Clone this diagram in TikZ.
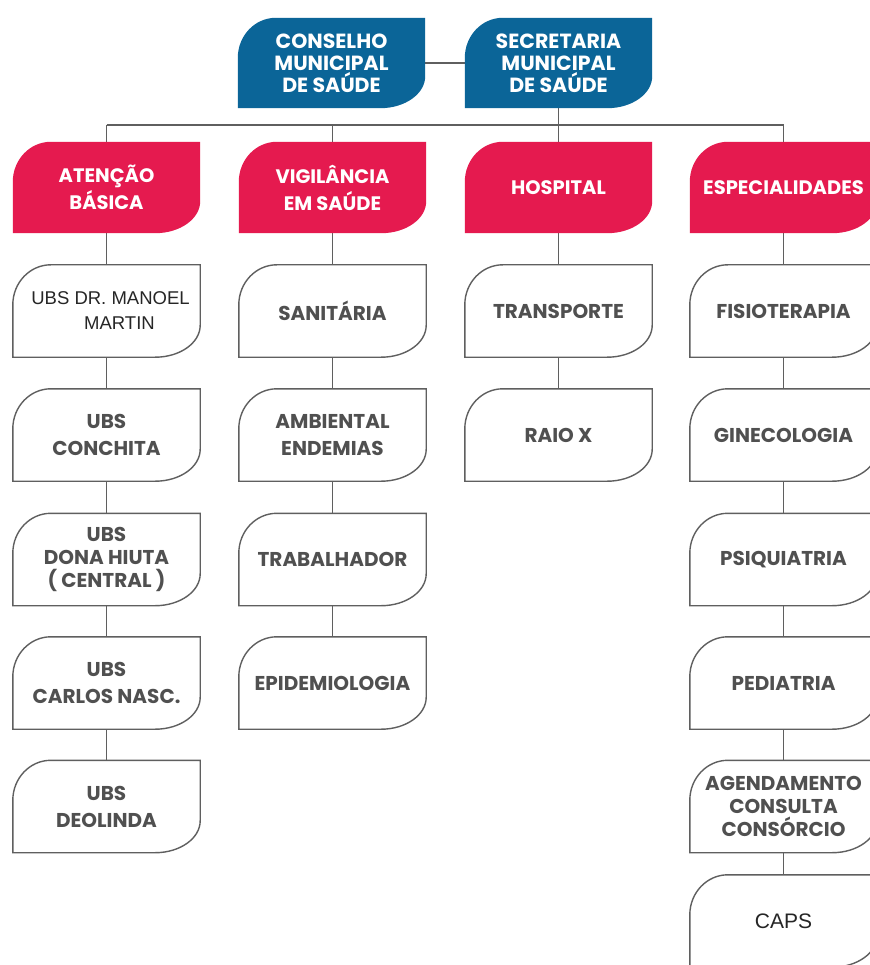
\documentclass[tikz,border=0pt]{standalone}
\usepackage{fontspec}
\setmainfont{Poppins}
\newfontfamily\arialf{Liberation Sans}
\usetikzlibrary{calc}
\definecolor{topblue}{HTML}{0B6598}
\definecolor{hdrpink}{HTML}{E51A4F}
\definecolor{txtgray}{HTML}{505050}
\definecolor{linegray}{HTML}{5F5F5F}
\pgfdeclarelayer{background}
\pgfsetlayers{background,main}
\begin{document}
\begin{tikzpicture}[x=1pt,y=-1pt,
  topbox/.style={minimum width=187pt,minimum height=90pt,inner sep=0pt,align=center,text=white,font=\bfseries\fontsize{20.5}{22}\selectfont},
  hdr/.style={minimum width=187pt,minimum height=91pt,inner sep=0pt,align=center,text=white,font=\bfseries\fontsize{19.5}{27}\selectfont},
  leaf/.style={minimum width=187pt,minimum height=92pt,inner sep=0pt,align=center,text=txtgray,font=\bfseries\fontsize{20}{27}\selectfont},
  leaf3/.style={leaf,font=\bfseries\fontsize{20}{23}\selectfont},
  shp/.style={insert path={(#1.north east) -- ([yshift=32pt]#1.south east) arc[start angle=0,end angle=-90,x radius=45pt,y radius=32pt] -- (#1.south west) -- ([yshift=-40pt]#1.north west) arc[start angle=180,end angle=90,x radius=38pt,y radius=40pt] -- cycle}},
  wire/.style={draw=linegray,line width=1.6pt},
  leafline/.style={draw=linegray,line width=1.4pt,fill=white},
]
\useasboundingbox (0,0) rectangle (869,965);

% top row
\node[topbox] (cms) at (331.5,63) {CONSELHO\\MUNICIPAL\\DE SAÚDE};
\node[topbox] (sms) at (558.5,63) {SECRETARIA\\MUNICIPAL\\DE SAÚDE};

% headers
\node[hdr] (h1) at (106.5,187.5) {ATENÇÃO\\BÁSICA};
\node[hdr] (h2) at (332.5,187.5) {VIGILÂNCIA\\EM SAÚDE};
\node[hdr] (h3) at (558.5,187.5) {HOSPITAL};
\node[hdr] (h4) at (783.5,187.5) {ESPECIALIDADES};

% column 1
\node[leaf,font=\arialf\fontsize{18.5}{25}\selectfont,text=black!85] (a1) at (106.5,311) {\hspace*{8pt}UBS DR. MANOEL\\\hspace*{26pt}MARTIN};
\node[leaf] (a2) at (106.5,435) {UBS\\CONCHITA};
\node[leaf3] (a3) at (106.5,559.5) {UBS\\DONA HIUTA\\( CENTRAL )};
\node[leaf] (a4) at (106.5,683) {UBS\\CARLOS NASC.};
\node[leaf] (a5) at (106.5,806.5) {UBS\\DEOLINDA};

% column 2
\node[leaf] (b1) at (332.5,311) {SANITÁRIA};
\node[leaf] (b2) at (332.5,435) {AMBIENTAL\\ENDEMIAS};
\node[leaf] (b3) at (332.5,559.5) {TRABALHADOR};
\node[leaf] (b4) at (332.5,683) {EPIDEMIOLOGIA};

% column 3
\node[leaf] (c1) at (558.5,311) {TRANSPORTE};
\node[leaf] (c2) at (558.5,435) {RAIO X};

% column 4
\node[leaf] (d1) at (783.5,311) {FISIOTERAPIA};
\node[leaf] (d2) at (783.5,435) {GINECOLOGIA};
\node[leaf] (d3) at (783.5,559.5) {PSIQUIATRIA};
\node[leaf] (d4) at (783.5,683) {PEDIATRIA};
\node[leaf3] (d5) at (783.5,806.5) {AGENDAMENTO\\CONSULTA\\CONSÓRCIO};
\node[leaf,font=\arialf\fontsize{21}{25}\selectfont,text=black!85] (d6) at (783.5,921) {CAPS};

\coordinate (bus) at (0,125);

\begin{pgfonlayer}{background}
  \fill[white] (0,0) rectangle (869,965);
  % connectors
  \draw[wire] (cms.east) -- (sms.west);
  \draw[wire] (sms.south) -- (sms.south |- bus);
  \draw[wire] (h1.north |- bus) -- (h4.north |- bus);
  \foreach \h in {h1,h2,h3,h4} {\draw[wire] (\h.north |- bus) -- (\h.north);}
  \draw[wire] (h1.south) -- (a1.north);
  \draw[wire] (a1.south) -- (a2.north);
  \draw[wire] (a2.south) -- (a3.north);
  \draw[wire] (a3.south) -- (a4.north);
  \draw[wire] (a4.south) -- (a5.north);
  \draw[wire] (h2.south) -- (b1.north);
  \draw[wire] (b1.south) -- (b2.north);
  \draw[wire] (b2.south) -- (b3.north);
  \draw[wire] (b3.south) -- (b4.north);
  \draw[wire] (h3.south) -- (c1.north);
  \draw[wire] (c1.south) -- (c2.north);
  \draw[wire] (h4.south) -- (d1.north);
  \draw[wire] (d1.south) -- (d2.north);
  \draw[wire] (d2.south) -- (d3.north);
  \draw[wire] (d3.south) -- (d4.north);
  \draw[wire] (d4.south) -- (d5.north);
  \draw[wire] (d5.south) -- (d6.north);
  % shapes
  \foreach \n in {cms,sms} {\fill[topblue,shp=\n];}
  \foreach \n in {h1,h2,h3,h4} {\fill[hdrpink,shp=\n];}
  \foreach \n in {a1,a2,a3,a4,a5,b1,b2,b3,b4,c1,c2,d1,d2,d3,d4,d5,d6} {\path[leafline,shp=\n];}
\end{pgfonlayer}
\end{tikzpicture}
\end{document}
